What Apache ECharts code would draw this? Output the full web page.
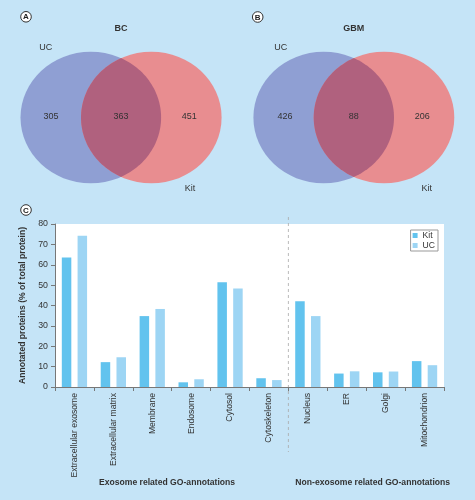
<!DOCTYPE html>
<html>
<head>
<meta charset="utf-8">
<script src="https://cdn.jsdelivr.net/npm/echarts@6/dist/echarts.min.js"></script>
<style>
html,body{margin:0;padding:0;background:#c5e4f7;}
#main{width:475px;height:500px;}
</style>
</head>
<body>
<div id="main"></div>
<script>
// ---- Data ----
const categories = ['Extracellular exosome','Extracellular matrix','Membrane','Endosome','Cytosol','Cytoskeleton','Nucleus','ER','Golgi','Mitochondrion'];
const kitValues = [63.5, 12.2, 34.8, 2.3, 51.4, 4.3, 42.1, 6.6, 7.2, 12.7];
const ucValues  = [74.2, 14.6, 38.3, 3.8, 48.3, 3.4, 34.8, 7.7, 7.6, 10.7];
const seriesNames = ['Kit', 'UC'];
const yMin = 0, yMax = 80, yInterval = 10;
const groupLabels = ['Exosome related GO-annotations', 'Non-exosome related GO-annotations'];
const groupSplitAfter = 5; // last index of exosome group

const vennTitles = ['BC', 'GBM'];
const vennUCOnly = [305, 426];
const vennBoth = [363, 88];
const vennKitOnly = [451, 206];
const vennSetNames = ['UC', 'Kit'];
const panelLetters = ['A', 'B', 'C'];

// ---- Styles ----
const FONT = '"Liberation Sans", Arial, Helvetica, sans-serif';
const BLUE = '#8f9fd3', RED = '#e88d90', OVER = '#b0617e';
const KIT = '#62c3ee', UCC = '#9dd5f4';
const TXT = '#333';

const chart = echarts.init(document.getElementById('main'), null, {renderer: 'canvas'});

// Venn geometry (layout)
const vennLayouts = [
  {cxL: 90.8, cxR: 151.3, cy: 117.5, titleX: 121, ucX: 45.7, kitX: 190, lX: 51, rX: 189.3},
  {cxL: 323.7, cxR: 384, cy: 117.5, titleX: 353.7, ucX: 280.7, kitX: 426.7, lX: 285, rX: 422.3}
];
const RX = 70.3, RY = 65.8;

function lensPoints(L) {
  const h = (L.cxR - L.cxL) / 2;
  const t0 = Math.acos(h / RX);
  const pts = [];
  const N = 60;
  for (let k = 0; k <= N; k++) {
    const t = -t0 + 2 * t0 * k / N;
    pts.push([L.cxL + RX * Math.cos(t), L.cy + RY * Math.sin(t)]);
  }
  for (let k = 0; k <= N; k++) {
    const t = Math.PI - t0 + 2 * t0 * k / N;
    pts.push([L.cxR + RX * Math.cos(t), L.cy + RY * Math.sin(t)]);
  }
  return pts;
}

const graphics = [];
vennLayouts.forEach((L, i) => {
  graphics.push({type: 'ellipse', shape: {cx: L.cxL, cy: L.cy, rx: RX, ry: RY}, style: {fill: BLUE}, silent: true});
  graphics.push({type: 'ellipse', shape: {cx: L.cxR, cy: L.cy, rx: RX, ry: RY}, style: {fill: RED}, silent: true});
  graphics.push({type: 'polygon', shape: {points: lensPoints(L)}, style: {fill: OVER}, silent: true});
  const mid = (L.cxL + L.cxR) / 2;
  const tstyle = {fill: TXT, align: 'center', verticalAlign: 'middle'};
  graphics.push({type: 'text', x: L.titleX, y: 29, style: Object.assign({}, tstyle, {text: vennTitles[i], font: `bold 9px ${FONT}`})});
  graphics.push({type: 'text', x: L.ucX, y: 47.5, style: Object.assign({}, tstyle, {text: vennSetNames[0], font: `9px ${FONT}`})});
  graphics.push({type: 'text', x: L.kitX, y: 189, style: Object.assign({}, tstyle, {text: vennSetNames[1], font: `9px ${FONT}`})});
  graphics.push({type: 'text', x: L.lX, y: 116.7, style: Object.assign({}, tstyle, {text: String(vennUCOnly[i]), font: `9px ${FONT}`})});
  graphics.push({type: 'text', x: mid, y: 116.7, style: Object.assign({}, tstyle, {text: String(vennBoth[i]), font: `9px ${FONT}`})});
  graphics.push({type: 'text', x: L.rX, y: 116.7, style: Object.assign({}, tstyle, {text: String(vennKitOnly[i]), font: `9px ${FONT}`})});
});

// Panel letters
const letterPos = [[26, 16.8], [257.7, 17], [26, 210]];
letterPos.forEach((pp, i) => {
  graphics.push({type: 'circle', shape: {cx: pp[0], cy: pp[1], r: 5.3}, style: {fill: '#fff', stroke: '#333', lineWidth: 1}, silent: true});
  graphics.push({type: 'text', x: pp[0], y: pp[1] + 0.4, style: {text: panelLetters[i], fill: '#222', font: `bold 8px ${FONT}`, align: 'center', verticalAlign: 'middle'}});
});

// Group labels
graphics.push({type: 'text', x: 167, y: 483, style: {text: groupLabels[0], fill: TXT, font: `bold 8.6px ${FONT}`, align: 'center', verticalAlign: 'middle'}});
graphics.push({type: 'text', x: 372.7, y: 483, style: {text: groupLabels[1], fill: TXT, font: `bold 8.6px ${FONT}`, align: 'center', verticalAlign: 'middle'}});

const option = {
  backgroundColor: '#c5e4f7',
  animation: false,
  textStyle: {fontFamily: FONT},
  grid: {left: 55, right: 31, top: 224, bottom: 113, show: true, backgroundColor: '#fff', borderWidth: 0},
  legend: {
    data: seriesNames, orient: 'vertical', right: 37, top: 230,
    itemWidth: 5, itemHeight: 5, itemGap: 1, icon: 'rect',
    backgroundColor: '#fff', borderColor: '#999', borderWidth: 1, padding: [1, 3, 1, 2],
    textStyle: {fontSize: 8.6, color: TXT, fontFamily: FONT}
  },
  xAxis: {
    type: 'category', data: categories,
    axisLine: {lineStyle: {color: '#777', width: 1}},
    axisTick: {show: true, length: 4, lineStyle: {color: '#777'}},
    axisLabel: {rotate: 90, fontSize: 8.6, color: TXT, margin: 6, interval: 0, fontFamily: FONT}
  },
  yAxis: {
    type: 'value', min: yMin, max: yMax, interval: yInterval,
    name: 'Annotated proteins (% of total protein)', nameLocation: 'middle', nameGap: 24,
    nameTextStyle: {fontSize: 8.6, fontWeight: 'bold', color: TXT, fontFamily: FONT},
    axisLine: {show: true, lineStyle: {color: '#777', width: 1}},
    axisTick: {show: true, length: 4, lineStyle: {color: '#777'}},
    axisLabel: {fontSize: 8.8, color: TXT, margin: 7, fontFamily: FONT},
    splitLine: {show: false}
  },
  series: [
    {name: seriesNames[0], type: 'bar', data: kitValues, barWidth: 9.5, barGap: '66%', itemStyle: {color: KIT}},
    {name: seriesNames[1], type: 'bar', data: ucValues, barWidth: 9.5, barGap: '66%', itemStyle: {color: UCC}}
  ],
  graphic: graphics
};
chart.setOption(option);

// dashed separator between groups, located via the category axis scale
const c1 = chart.convertToPixel({xAxisIndex: 0}, categories[groupSplitAfter]);
const c2 = chart.convertToPixel({xAxisIndex: 0}, categories[groupSplitAfter + 1]);
const sx = (c1 + c2) / 2;
chart.setOption({graphic: graphics.concat([{
  type: 'line', shape: {x1: sx, y1: 217, x2: sx, y2: 452},
  style: {stroke: '#aaa', lineWidth: 0.8, lineDash: [3, 3]}, silent: true
}])});
</script>
</body>
</html>
